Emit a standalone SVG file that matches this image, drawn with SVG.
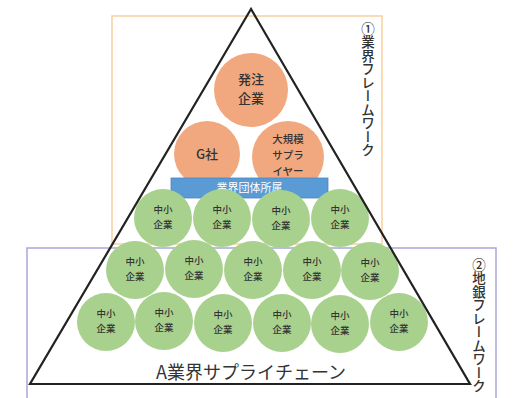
<svg xmlns="http://www.w3.org/2000/svg" width="516" height="398" viewBox="0 0 516 398">
<style>
text{font-family:"Noto Sans CJK JP","Noto Sans",sans-serif;fill:#333;text-anchor:middle;font-weight:500}
.o{fill:#F2A87E}
.g{fill:#A9D18E}
.s{font-size:9.5px}
.m{font-size:13px}
.v{font-size:13.5px;writing-mode:vertical-rl;text-anchor:start}
</style>
<rect width="516" height="398" fill="#fff"/>
<g id="frame1"><rect x="112" y="16" width="270" height="228" fill="none" stroke="#F9CFA0" stroke-width="1.5"/>
<text class="v" x="368" y="22">①業界フレームワーク</text></g>
<g id="frame2"><rect x="27" y="248" width="469" height="160" fill="none" stroke="#A8A8D8" stroke-width="1.5"/>
<text class="v" x="479" y="258">②地銀フレームワーク</text></g>
<g id="hacchu"><circle class="o" cx="251" cy="90" r="37"/><text class="m" x="251" y="84">発注</text><text class="m" x="251" y="103">企業</text></g>
<g id="gsha"><circle class="o" cx="207" cy="154" r="33"/><text class="m" x="207" y="159">G社</text></g>
<g id="supplier"><circle class="o" cx="288" cy="157" r="36"/><text x="288" y="143" font-size="10.5">大規模</text><text x="288" y="159" font-size="10.5">サプラ</text><text x="288" y="175" font-size="10.5">イヤー</text></g>
<g id="dantai"><rect x="171" y="178" width="157" height="20" fill="#5B9BD5" stroke="#4A86BE" stroke-width="0.8"/><text x="249.5" y="192" font-size="11" style="fill:#fff;font-weight:400">業界団体所属</text></g>
<g id="r1">
<g><circle class="g" cx="163" cy="218" r="29"/><text class="s" x="163" y="213">中小</text><text class="s" x="163" y="228">企業</text></g>
<g><circle class="g" cx="222" cy="218" r="29"/><text class="s" x="222" y="213">中小</text><text class="s" x="222" y="228">企業</text></g>
<g><circle class="g" cx="281" cy="219" r="29"/><text class="s" x="281" y="214">中小</text><text class="s" x="281" y="229">企業</text></g>
<g><circle class="g" cx="340" cy="218" r="29"/><text class="s" x="340" y="213">中小</text><text class="s" x="340" y="228">企業</text></g>
</g>
<g id="r2">
<g><circle class="g" cx="135" cy="270" r="29"/><text class="s" x="135" y="265">中小</text><text class="s" x="135" y="280">企業</text></g>
<g><circle class="g" cx="194" cy="269" r="29"/><text class="s" x="194" y="264">中小</text><text class="s" x="194" y="279">企業</text></g>
<g><circle class="g" cx="253" cy="270" r="29"/><text class="s" x="253" y="265">中小</text><text class="s" x="253" y="280">企業</text></g>
<g><circle class="g" cx="312" cy="270" r="29"/><text class="s" x="312" y="265">中小</text><text class="s" x="312" y="280">企業</text></g>
<g><circle class="g" cx="370" cy="271" r="29"/><text class="s" x="370" y="266">中小</text><text class="s" x="370" y="281">企業</text></g>
</g>
<g id="r3">
<g><circle class="g" cx="106" cy="322" r="29"/><text class="s" x="106" y="317">中小</text><text class="s" x="106" y="332">企業</text></g>
<g><circle class="g" cx="164" cy="321" r="29"/><text class="s" x="164" y="316">中小</text><text class="s" x="164" y="331">企業</text></g>
<g><circle class="g" cx="223" cy="323" r="29"/><text class="s" x="223" y="318">中小</text><text class="s" x="223" y="333">企業</text></g>
<g><circle class="g" cx="282" cy="323" r="29"/><text class="s" x="282" y="318">中小</text><text class="s" x="282" y="333">企業</text></g>
<g><circle class="g" cx="340" cy="324" r="29"/><text class="s" x="340" y="319">中小</text><text class="s" x="340" y="334">企業</text></g>
<g><circle class="g" cx="399" cy="322" r="29"/><text class="s" x="399" y="317">中小</text><text class="s" x="399" y="332">企業</text></g>
</g>
<g id="connectors"><polygon points="251,9 30,384 470,384" fill="none" stroke="#222" stroke-width="2.2" stroke-linejoin="miter"/></g>
<g id="chain"><text x="251" y="379" font-size="18" style="font-weight:400">A業界サプライチェーン</text></g>
</svg>
